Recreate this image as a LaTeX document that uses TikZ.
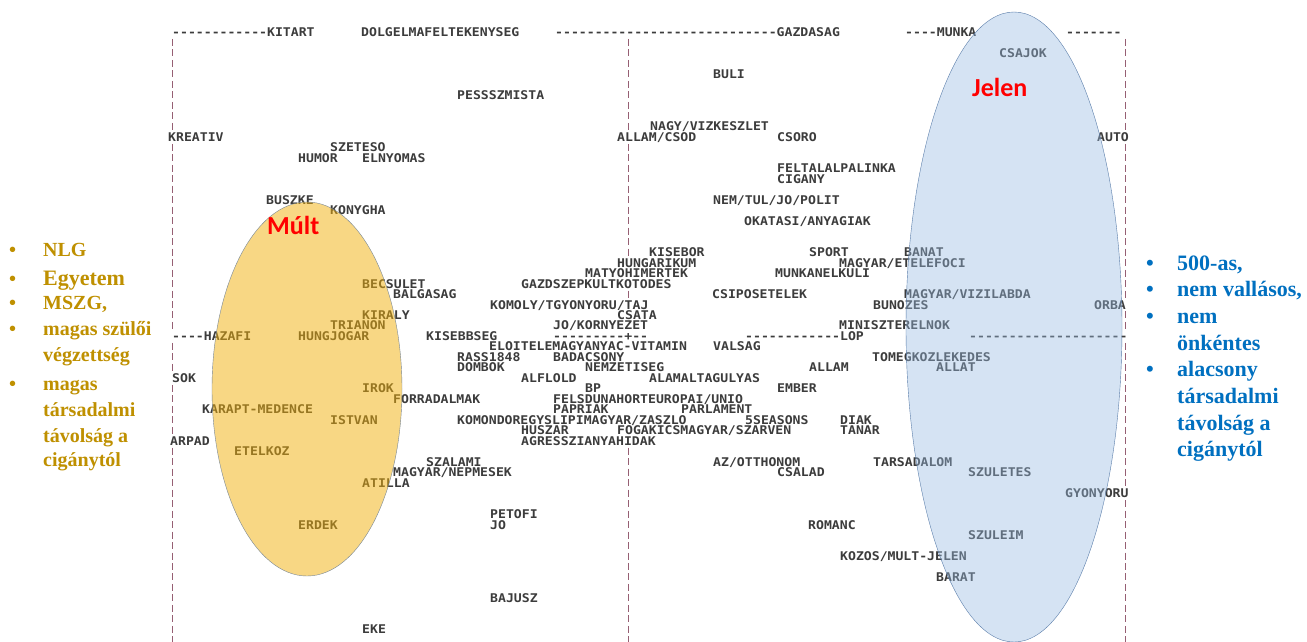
\documentclass[tikz,border=0pt]{standalone}
\usepackage{fontspec}
\newfontfamily\plotfont[FakeStretch=1.095]{DejaVu Sans Mono}
\newfontfamily\notefont{Liberation Serif}
\newfontfamily\tagfont{Carlito}
\usetikzlibrary{positioning}

\definecolor{plotgray}{RGB}{60,60,60}
\definecolor{rulered}{RGB}{150,95,115}
\definecolor{pastfill}{RGB}{243,177,10}
\definecolor{pastedge}{RGB}{120,135,150}
\definecolor{nowfill}{RGB}{152,187,225}
\definecolor{nowedge}{RGB}{90,125,170}
\definecolor{notegold}{RGB}{191,144,0}
\definecolor{noteblue}{RGB}{0,112,192}

\begin{document}
\begin{tikzpicture}[x=1pt, y=-1pt,
                    word/.style={font=\plotfont\bfseries\fontsize{12}{12}\selectfont, text=plotgray,
                                 anchor=west, inner sep=0pt, text height=9.2pt, text depth=0.1pt},
                    onrule/.style={word, fill=white},
                    rule/.style={rulered, line width=0.8pt, dash pattern=on 7pt off 3.48pt},
                    era/.style={font=\tagfont\bfseries\fontsize{26}{26}\selectfont, text=red,
                                anchor=base west, inner sep=0pt},
                    pastnote/.style={font=\notefont\bfseries\fontsize{20}{20}\selectfont, text=notegold,
                                     anchor=base west, inner sep=0pt},
                    nownote/.style={font=\notefont\bfseries\fontsize{22}{22}\selectfont, text=noteblue,
                                    anchor=base west, inner sep=0pt},
                   ]

\useasboundingbox[fill=white] (0,0) rectangle (1307,642);

% frame of the plot
\draw[rule] (172,39) -- (172,642);
\draw[rule] (628,39) -- (628,340);
\draw[rule] (628,447.7) -- (628,642);
\draw[rule] (1125,39) -- (1125,642);

% top row
\node[word] (kitart) at (172,32) {------------KITART};
\node[word] (dolgel) at (361,32) {DOLGELMAFELTEKENYSEG};
\node[word] (gazdasag) at (555,32) {----------------------------GAZDASAG};
\node[word] (munka) at (905,32) {----MUNKA};
\node[word] (topend) at (1066,32) {-------};

\node[word] (csajok) at (999,53) {CSAJOK};
\node[word] (buli) at (713,73.9) {BULI};
\node[word] (pessz) at (457,94.9) {PESSSZMISTA};
\node[word] (nagyviz) at (650,126.3) {NAGY/VIZKESZLET};
\node[onrule] (kreativ) at (168,136.8) {KREATIV};
\node[onrule] (allamcsod) at (617,136.8) {ALLAM/CSOD};
\node[word] (csoro) at (777,136.8) {CSORO};
\node[onrule] (auto) at (1097,136.8) {AUTO};
\node[word] (szeteso) at (330,147.3) {SZETESO};
\node[word] (humor) at (298,157.8) {HUMOR};
\node[word] (elnyomas) at (362,157.8) {ELNYOMAS};
\node[word] (feltalal) at (777,168.2) {FELTALALPALINKA};
\node[word] (cigany) at (777,178.7) {CIGANY};
\node[word] (buszke) at (266,199.7) {BUSZKE};
\node[word] (nemtul) at (713,199.7) {NEM/TUL/JO/POLIT};
\node[word] (konygha) at (330,210.2) {KONYGHA};
\node[word] (okatasi) at (744,220.6) {OKATASI/ANYAGIAK};

\node[word] (kisebor) at (649,252.1) {KISEBOR};
\node[word] (sport) at (809,252.1) {SPORT};
\node[word] (banat) at (904,252.1) {BANAT};
\node[onrule] (hungarikum) at (617,262.6) {HUNGARIKUM};
\node[word] (etelefoci) at (839,262.6) {MAGYAR/ETELEFOCI};
\node[onrule] (matyo) at (585,273) {MATYOHIMERTEK};
\node[word] (munkanel) at (775,273) {MUNKANELKULI};
\node[word] (becsulet) at (362,283.5) {BECSULET};
\node[onrule] (gazdszep) at (521,283.5) {GAZDSZEPKULTKOTODES};
\node[word] (balgasag) at (393,294) {BALGASAG};
\node[word] (csipos) at (712,294) {CSIPOSETELEK};
\node[word] (vizilabda) at (904,294) {MAGYAR/VIZILABDA};
\node[onrule] (komoly) at (490,304.5) {KOMOLY/TGYONYORU/TAJ};
\node[word] (bunozes) at (873,304.5) {BUNOZES};
\node[onrule] (orba) at (1094,304.5) {ORBA};
\node[word] (kiraly) at (362,315) {KIRALY};
\node[onrule] (csata) at (617,315) {CSATA};
\node[word] (trianon) at (330,325.4) {TRIANON};
\node[onrule] (jokorny) at (553,325.4) {JO/KORNYEZET};
\node[word] (minisz) at (839,325.4) {MINISZTERELNOK};

% middle row
\node[onrule] (hazafi) at (172,335.9) {----HAZAFI};
\node[word] (hungjog) at (298,335.9) {HUNGJOGAR};
\node[word] (kisebbseg) at (426,335.9) {KISEBBSEG};
\node[onrule] (cross) at (553,335.9) {---------+--};
\node[word] (lop) at (745,335.9) {------------LOP};
\node[onrule] (midend) at (969,335.9) {--------------------};

\node[word] (eloitel) at (489,346.4) {ELOITELEMAGYANYAC-VITAMIN};
\node[word] (valsag) at (713,346.4) {VALSAG};
\node[word] (rass) at (457,356.9) {RASS1848};
\node[word] (badacsony) at (553,356.9) {BADACSONY};
\node[word] (tomeg) at (872,356.9) {TOMEGKOZLEKEDES};
\node[word] (dombok) at (457,367.4) {DOMBOK};
\node[word] (nemzet) at (585,367.4) {NEMZETISEG};
\node[word] (allam) at (809,367.4) {ALLAM};
\node[word] (allat) at (936,367.4) {ALLAT};
\node[onrule] (sok) at (172,377.8) {SOK};
\node[word] (alflold) at (521,377.8) {ALFLOLD};
\node[word] (alamal) at (649,377.8) {ALAMALTAGULYAS};
\node[word] (irok) at (362,388.3) {IROK};
\node[word] (bp) at (585,388.3) {BP};
\node[word] (ember) at (777,388.3) {EMBER};
\node[word] (forradalmak) at (393,398.8) {FORRADALMAK};
\node[word] (felsduna) at (553,398.8) {FELSDUNAHORTEUROPAI/UNIO};
\node[word] (karapt) at (202,409.3) {KARAPT-MEDENCE};
\node[word] (papriak) at (553,409.3) {PAPRIAK};
\node[word] (parlament) at (681,409.3) {PARLAMENT};
\node[word] (istvan) at (330,419.8) {ISTVAN};
\node[word] (komondor) at (457,419.8) {KOMONDOREGYSLIPIMAGYAR/ZASZLO};
\node[word] (seasons) at (745,419.8) {5SEASONS};
\node[word] (diak) at (840,419.8) {DIAK};
\node[word] (huszar) at (521,430.2) {HUSZAR};
\node[word] (fogakics) at (617,430.2) {FOGAKICSMAGYAR/SZARVEN};
\node[word] (tanar) at (840,430.2) {TANAR};
\node[onrule] (arpad) at (170,440.7) {ARPAD};
\node[word] (agressz) at (521,440.7) {AGRESSZIANYAHIDAK};
\node[word] (etelkoz) at (234,451.2) {ETELKOZ};
\node[word] (szalami) at (426,461.7) {SZALAMI};
\node[word] (otthon) at (713,461.7) {AZ/OTTHONOM};
\node[word] (tarsad) at (873,461.7) {TARSADALOM};
\node[word] (nepmese) at (393,472.2) {MAGYAR/NEPMESEK};
\node[word] (csalad) at (777,472.2) {CSALAD};
\node[word] (szuletes) at (968,472.2) {SZULETES};
\node[word] (atilla) at (362,482.6) {ATILLA};
\node[onrule] (gyonyoru) at (1065,493.1) {GYONYORU};
\node[word] (petofi) at (490,514.1) {PETOFI};
\node[word] (jo) at (490,524.6) {JO};
\node[word] (erdek) at (298,524.6) {ERDEK};
\node[word] (romanc) at (808,524.6) {ROMANC};
\node[word] (szuleim) at (968,535) {SZULEIM};
\node[word] (kozos) at (840,556) {KOZOS/MULT-JELEN};
\node[word] (barat) at (936,577) {BARAT};
\node[word] (bajusz) at (490,597.9) {BAJUSZ};
\node[word] (eke) at (362,629.4) {EKE};

% the two groups
\draw[pastedge, fill=pastfill, fill opacity=0.5] (307,389) ellipse [x radius=95pt, y radius=187pt];
\draw[nowedge, fill=nowfill, fill opacity=0.4] (1014,327) ellipse [x radius=108pt, y radius=315pt];

\node[era] (mult) at (267,234) {Múlt};
\node[era] (jelen) at (972,96.7) {Jelen};

% notes left
\node[pastnote] (pb1) at (9,256.7) {•};
\node[pastnote] (p1) at (43,256.7) {NLG};
\node[pastnote] (pb2) at (9,285) {•};
\node[pastnote, font=\notefont\bfseries\fontsize{22}{22}\selectfont] (p2) at (43,285) {Egyetem};
\node[pastnote] (pb3) at (9,309) {•};
\node[pastnote] (p3) at (43,309) {MSZG,};
\node[pastnote] (pb4) at (9,335) {•};
\node[pastnote] (p4) at (43,335) {magas szülői};
\node[pastnote] (p5) at (43,361.7) {végzettség};
\node[pastnote] (pb6) at (9,390) {•};
\node[pastnote] (p6) at (43,390) {magas};
\node[pastnote] (p7) at (43,416.7) {társadalmi};
\node[pastnote] (p8) at (43,442) {távolság a};
\node[pastnote] (p9) at (43,466.7) {cigánytól};

% notes right
\node[nownote] (nb1) at (1146,270) {•};
\node[nownote] (n1) at (1177,270) {500-as,};
\node[nownote] (nb2) at (1146,296.7) {•};
\node[nownote] (n2) at (1177,296.7) {nem vallásos,};
\node[nownote] (nb3) at (1146,323.3) {•};
\node[nownote] (n3) at (1177,323.3) {nem};
\node[nownote] (n4) at (1177,350) {önkéntes};
\node[nownote] (nb5) at (1146,376.7) {•};
\node[nownote] (n5) at (1177,376.7) {alacsony};
\node[nownote] (n6) at (1177,403.3) {társadalmi};
\node[nownote] (n7) at (1177,430) {távolság a};
\node[nownote] (n8) at (1177,456.7) {cigánytól};

\end{tikzpicture}
\end{document}
